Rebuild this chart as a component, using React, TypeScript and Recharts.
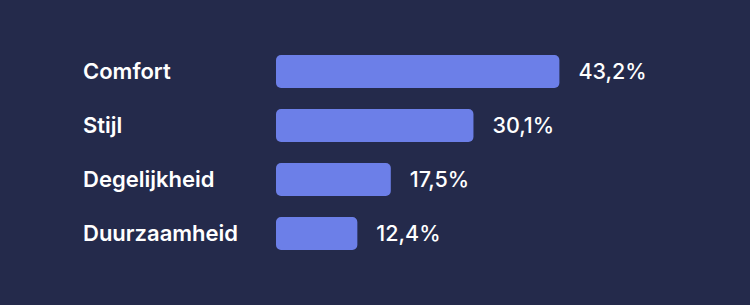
import { BarChart, Bar, XAxis, YAxis, LabelList } from 'recharts'

const categories = ['Comfort', 'Stijl', 'Degelijkheid', 'Duurzaamheid']
const shares = [43.2, 30.1, 17.5, 12.4]

const data = categories.map((name, i) => ({ name, value: shares[i] }))

const fmt = (v: number) => v.toFixed(1).replace('.', ',') + '%'

function NameTick(props: any) {
  const { y, payload } = props
  return (
    <text x={83} y={y} dy="0.36em" textAnchor="start" fill="#ffffff"
      fontFamily="Inter, sans-serif" fontSize={22} fontWeight={600}>
      {payload.value}
    </text>
  )
}

export default function App() {
  return (
    <div style={{ position: 'fixed', left: 0, top: 0, width: 750, height: 305, background: '#242a4b' }}>
      <BarChart width={750} height={305} data={data} layout="vertical"
        margin={{ top: 44, right: 146, bottom: 45, left: 0 }}>
        <XAxis type="number" domain={[0, 50]} hide />
        <YAxis type="category" dataKey="name" width={276} axisLine={false} tickLine={false} tick={<NameTick />} />
        <Bar dataKey="value" fill="#6c7fe8" barSize={33} radius={5} isAnimationActive={false}>
          <LabelList dataKey="value" position="right" offset={19} formatter={(v: any) => fmt(Number(v))}
            fill="#ffffff" style={{ fontFamily: 'Inter, sans-serif', fontSize: 21.5, fontWeight: 500 }} />
        </Bar>
      </BarChart>
    </div>
  )
}
